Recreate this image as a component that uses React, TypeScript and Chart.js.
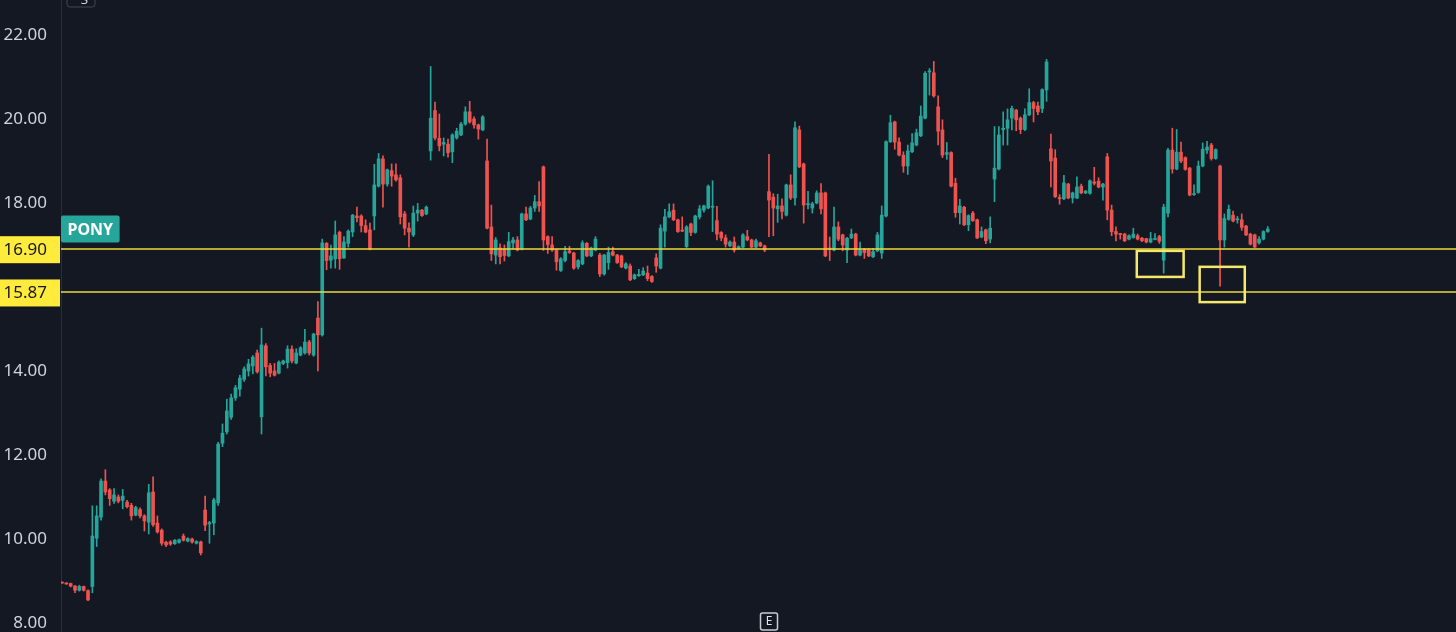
import React, { useEffect, useRef } from "react";
import { Chart, registerables } from "chart.js";

Chart.register(...registerables);

// ---- Data (daily OHLC) ----
const OPEN = [
  8.97, 8.95, 8.94, 8.88, 8.78, 8.87, 8.77, 8.87, 10.02, 10.52, 11.38, 11.17, 10.9, 11.0, 10.92, 10.88, 10.8, 10.57, 10.7, 10.55, 10.4, 11.12, 10.38, 10.21, 9.92, 9.93, 9.89, 9.92, 10.07, 9.95, 10.0, 9.9, 9.93, 10.69, 10.36, 10.38, 10.86, 12.28, 12.55, 12.9, 13.36, 13.57,
  13.8, 14.0, 14.12, 14.43, 12.91, 14.6, 14.13, 14.0, 13.95, 14.18, 14.2, 14.52, 14.19, 14.38, 14.43, 14.69, 14.38, 15.26, 14.86, 17.04, 16.64, 16.67, 17.3, 16.69, 17.04, 17.31, 17.69, 17.69, 17.46, 17.36, 17.69, 18.4, 19.05, 18.45, 18.77, 18.67, 18.6, 17.74, 17.4, 17.24, 17.76, 17.83, 17.74,
  19.24, 20.2, 19.54, 19.4, 19.4, 19.22, 19.55, 19.62, 19.88, 20.17, 20.0, 19.86, 19.74, 19.0, 17.43, 16.76, 16.93, 16.9, 16.74, 17.05, 17.12, 16.9, 17.74, 17.62, 17.88, 18.03, 18.86, 17.2, 17.0, 16.88, 16.39, 16.63, 16.86, 16.81, 16.48, 16.55, 17.04, 16.74, 16.88, 16.76, 16.31, 16.58, 16.84, 16.76, 16.74, 16.45, 16.5, 16.2, 16.27, 16.29, 16.33, 16.25, 16.69, 16.45, 17.33, 17.67, 17.83, 17.6,
  17.35, 16.96, 17.5, 17.3, 17.67, 17.83, 17.88, 17.9, 17.58, 17.3, 17.17, 16.98, 17.07, 16.92, 16.95, 17.2, 17.12, 16.95, 17.05, 16.98, 18.27, 18.14, 17.86, 17.93, 17.71, 18.43, 18.12, 19.74, 18.93, 17.96, 17.88, 18.0, 18.24, 18.24, 16.93, 16.88, 17.43, 17.24, 16.88, 17.17, 17.26, 16.76, 16.9, 16.88, 16.72, 16.86, 16.81, 17.69, 19.46, 19.93, 19.45, 19.14, 18.88,
  19.22, 19.38, 19.6, 20.02, 21.12, 21.1, 20.29, 19.74, 19.16, 19.2, 18.47, 17.77, 17.9, 17.48, 17.76, 17.6, 17.19, 17.36, 17.14, 18.57, 18.81, 19.75, 19.78, 20.02, 20.21, 20.02, 19.75, 20.1, 20.39, 20.31, 20.25, 20.69, 19.29, 19.07, 18.13, 18.1, 18.45, 18.12, 18.12,
  18.4, 18.24, 18.23, 18.5, 18.52, 18.38, 19.1, 17.83, 17.32, 17.27, 17.26, 17.14, 17.18, 17.22, 17.16, 17.15, 17.07, 17.13, 17.2, 16.64, 17.76, 19.26, 18.81, 19.21, 19.08, 18.83, 18.2, 18.25, 18.88, 19.26, 19.38, 19.06, 18.88, 17.12, 17.61, 17.71, 17.6, 17.6, 17.45, 17.26, 17.24, 17.05, 17.14, 17.32,
];
const HIGH = [
  8.98, 8.96, 8.95, 8.89, 8.9, 8.88, 8.79, 10.79, 10.79, 11.43, 11.65, 11.2, 11.2, 11.05, 11.18, 10.92, 10.85, 10.78, 10.74, 10.58, 11.3, 11.48, 10.55, 10.24, 9.95, 9.96, 9.99, 10.0, 10.12, 10.03, 10.02, 9.96, 9.95, 11.02, 10.42, 10.97, 12.3, 12.74, 13.33, 13.45, 13.66, 13.9,
  14.1, 14.28, 14.37, 14.5, 15.02, 14.65, 14.18, 14.18, 14.24, 14.26, 14.6, 14.6, 14.53, 14.58, 14.99, 14.73, 14.9, 15.65, 17.14, 17.06, 17.0, 17.57, 17.33, 17.2, 17.36, 17.73, 17.9, 17.72, 17.6, 17.52, 18.92, 19.18, 19.12, 18.81, 18.93, 18.93, 18.67, 17.8, 17.53, 17.93, 17.99, 17.85, 17.93,
  21.25, 20.4, 20.12, 19.55, 19.52, 19.65, 19.78, 19.92, 20.29, 20.42, 20.05, 19.88, 20.08, 19.52, 17.95, 17.18, 17.03, 17.0, 17.3, 17.18, 17.2, 17.76, 17.9, 17.92, 18.18, 18.51, 18.88, 17.22, 17.2, 16.9, 16.7, 16.97, 16.97, 16.83, 16.65, 17.1, 17.06, 16.95, 17.2, 16.8, 16.78, 16.95, 16.95, 16.78, 16.76, 16.58, 16.55, 16.31, 16.42, 16.46, 16.5, 16.27, 16.79, 17.48, 17.85, 17.98, 17.98, 17.62,
  17.67, 17.46, 17.52, 17.71, 17.94, 17.95, 18.43, 18.53, 17.92, 17.32, 17.24, 17.1, 17.19, 16.98, 17.27, 17.35, 17.14, 17.14, 17.07, 17.0, 19.16, 18.22, 18.21, 18.1, 18.45, 18.67, 19.93, 19.83, 18.95, 18.28, 18.02, 18.29, 18.46, 18.26, 17.19, 17.9, 17.55, 17.26, 17.18, 17.38, 17.28, 17.07, 16.92, 16.92, 16.92, 17.3, 17.93, 19.48, 20.09, 19.95, 19.55, 19.22, 19.38,
  19.65, 19.76, 20.31, 21.13, 21.2, 21.37, 20.55, 19.98, 19.44, 19.22, 18.59, 18.09, 17.92, 17.72, 17.8, 17.62, 17.43, 17.38, 17.67, 19.82, 19.82, 20.17, 20.24, 20.31, 20.23, 20.05, 20.24, 20.72, 20.42, 20.4, 20.72, 21.42, 19.64, 19.27, 18.2, 18.66, 18.47, 18.26, 18.62,
  18.45, 18.3, 18.55, 18.85, 18.6, 18.47, 19.18, 17.95, 17.43, 17.28, 17.28, 17.24, 17.4, 17.26, 17.18, 17.16, 17.3, 17.27, 17.23, 17.97, 19.3, 19.78, 19.75, 19.45, 19.1, 18.85, 18.43, 19.0, 19.43, 19.47, 19.42, 19.29, 18.9, 17.74, 17.95, 17.81, 17.68, 17.74, 17.47, 17.28, 17.26, 17.2, 17.34, 17.44,
];
const LOW = [
  8.94, 8.92, 8.86, 8.72, 8.76, 8.76, 8.53, 8.72, 9.82, 10.45, 11.05, 10.8, 10.85, 10.86, 10.72, 10.74, 10.45, 10.55, 10.5, 10.19, 10.12, 10.3, 10.14, 9.85, 9.82, 9.85, 9.87, 9.9, 9.95, 9.93, 9.9, 9.88, 9.62, 10.2, 9.9, 10.1, 10.8, 12.2, 12.5, 12.85, 13.3, 13.4,
  13.75, 13.88, 13.93, 13.95, 12.5, 13.88, 13.86, 13.88, 13.93, 14.15, 14.07, 14.19, 14.17, 14.36, 14.4, 14.38, 14.35, 14.0, 14.83, 16.41, 16.45, 16.45, 16.42, 16.68, 16.95, 17.2, 17.55, 17.31, 17.29, 16.88, 17.36, 18.38, 17.9, 18.4, 18.4, 18.52, 17.5, 17.24, 16.95, 17.2, 17.57, 17.68, 17.72,
  19.02, 19.5, 19.24, 19.12, 19.09, 18.96, 19.52, 19.6, 19.85, 19.9, 19.78, 19.52, 19.72, 17.38, 16.63, 16.55, 16.55, 16.62, 16.72, 16.9, 16.86, 16.88, 17.58, 17.6, 17.8, 17.8, 16.87, 16.8, 16.85, 16.4, 16.37, 16.6, 16.8, 16.42, 16.43, 16.53, 16.72, 16.72, 16.86, 16.25, 16.28, 16.42, 16.74, 16.56, 16.46, 16.43, 16.15, 16.18, 16.25, 16.27, 16.15, 16.11, 16.35, 16.43, 16.95, 17.65, 17.58, 17.3,
  17.32, 16.94, 17.22, 17.28, 17.62, 17.78, 17.86, 17.32, 17.12, 17.1, 16.95, 16.96, 16.83, 16.9, 16.93, 17.1, 16.93, 16.93, 16.96, 16.84, 17.2, 17.22, 17.54, 17.62, 17.69, 18.08, 17.95, 18.84, 17.52, 17.86, 17.76, 17.98, 17.74, 16.72, 16.63, 16.86, 17.1, 16.86, 16.58, 17.15, 16.74, 16.74, 16.68, 16.72, 16.7, 16.84, 16.68, 17.67, 19.44, 19.28, 19.12, 18.73, 18.68,
  19.2, 19.36, 19.58, 20.0, 20.57, 20.52, 19.38, 19.08, 19.04, 18.38, 17.66, 17.5, 17.46, 17.34, 17.56, 17.15, 17.17, 17.03, 17.05, 18.03, 18.79, 19.38, 19.38, 19.74, 19.72, 19.65, 19.72, 20.08, 19.93, 20.1, 20.15, 20.42, 18.38, 18.13, 17.97, 18.08, 18.1, 18.0, 18.1,
  18.22, 18.22, 18.21, 18.43, 18.36, 18.07, 17.6, 17.22, 17.1, 17.14, 17.08, 17.12, 17.16, 17.12, 17.08, 17.05, 17.05, 17.12, 17.04, 16.33, 17.67, 18.71, 18.79, 18.96, 18.78, 18.17, 18.18, 18.23, 18.86, 19.18, 19.02, 19.04, 16.02, 16.95, 17.59, 17.55, 17.52, 17.35, 17.22, 17.0, 16.93, 17.02, 17.12, 17.3,
];
const CLOSE = [
  8.95, 8.93, 8.88, 8.78, 8.87, 8.78, 8.55, 10.07, 10.55, 11.38, 11.12, 10.96, 11.05, 10.9, 11.02, 10.77, 10.55, 10.75, 10.55, 10.43, 11.1, 10.34, 10.17, 9.9, 9.86, 9.88, 9.97, 9.98, 9.97, 10.01, 9.93, 9.94, 9.67, 10.33, 10.39, 10.93, 12.26, 12.52, 13.05, 13.36, 13.6, 13.83,
  14.05, 14.17, 14.33, 13.98, 14.62, 14.1, 13.95, 13.9, 14.21, 14.24, 14.52, 14.24, 14.43, 14.55, 14.69, 14.43, 14.88, 14.86, 17.05, 16.63, 16.74, 17.24, 16.67, 17.07, 17.33, 17.71, 17.65, 17.46, 17.31, 16.9, 18.43, 19.05, 18.45, 18.79, 18.64, 18.55, 17.67, 17.4, 17.31, 17.76, 17.83, 17.7, 17.9,
  20.02, 19.55, 19.36, 19.44, 19.2, 19.62, 19.71, 19.88, 20.17, 19.93, 19.86, 19.76, 20.05, 17.4, 16.79, 17.12, 16.72, 16.75, 17.08, 17.12, 16.88, 17.74, 17.6, 17.88, 18.03, 17.93, 17.12, 17.01, 16.88, 16.6, 16.67, 16.84, 16.82, 16.45, 16.63, 17.05, 16.74, 16.93, 17.14, 16.31, 16.76, 16.82, 16.76, 16.58, 16.48, 16.55, 16.17, 16.29, 16.3, 16.38, 16.2, 16.13, 16.5, 17.4, 17.67, 17.79, 17.6, 17.32,
  17.33, 17.43, 17.3, 17.69, 17.86, 17.93, 18.4, 17.92, 17.26, 17.17, 17.02, 17.07, 16.88, 16.96, 17.24, 17.12, 16.95, 17.1, 16.98, 16.88, 18.07, 17.88, 17.93, 17.8, 18.43, 18.12, 19.79, 18.86, 17.95, 17.98, 17.98, 18.24, 17.86, 16.74, 16.9, 17.43, 17.14, 17.0, 17.16, 17.26, 16.76, 16.88, 16.82, 16.74, 16.84, 17.24, 17.71, 19.46, 19.91, 19.45, 19.14, 18.88, 19.24,
  19.43, 19.67, 20.07, 21.09, 21.14, 20.55, 19.71, 19.14, 19.2, 18.4, 17.77, 17.93, 17.48, 17.7, 17.58, 17.17, 17.32, 17.1, 17.4, 18.83, 19.62, 19.78, 19.98, 20.25, 19.98, 19.75, 20.1, 20.39, 20.25, 20.17, 20.7, 21.36, 19.0, 18.15, 18.1, 18.48, 18.12, 18.24, 18.38,
  18.24, 18.28, 18.53, 18.47, 18.38, 18.45, 17.83, 17.32, 17.26, 17.25, 17.1, 17.22, 17.26, 17.14, 17.1, 17.07, 17.15, 17.15, 17.09, 17.9, 19.26, 18.81, 19.21, 19.0, 18.8, 18.19, 18.22, 18.88, 19.28, 19.33, 19.06, 19.27, 17.12, 17.63, 17.85, 17.57, 17.62, 17.42, 17.24, 17.02, 16.95, 17.14, 17.32, 17.38,
];

const PRICE_TICKS = [8, 10, 12, 14, 18, 20, 22];
const LEVELS = [16.9, 15.87];
const SYMBOL = "PONY";
// highlight rectangles: candle-index span and price span
const HIGHLIGHT_FROM = [247.8, 262.3];
const HIGHLIGHT_TO = [258.6, 272.7];
const HIGHLIGHT_TOP = [16.86, 16.48];
const HIGHLIGHT_BOTTOM = [16.24, 15.64];
const EARNINGS_INDEX = 163;

const Y_MIN = 7.786;
const Y_MAX = 22.833;
const X_MIN = -0.23;
const X_MAX = 321.4;

const BG = "#141823";
const UP = "#26a69a";
const DOWN = "#ef5350";
const TEXT = "#d1d4dc";
const YELLOW = "#ffeb3b";
const FONT = "'Noto Sans', 'Liberation Sans', sans-serif";

function roundRect(ctx: CanvasRenderingContext2D, x: number, y: number, w: number, h: number, r: number) {
  ctx.beginPath();
  ctx.moveTo(x + r, y);
  ctx.lineTo(x + w - r, y);
  ctx.quadraticCurveTo(x + w, y, x + w, y + r);
  ctx.lineTo(x + w, y + h - r);
  ctx.quadraticCurveTo(x + w, y + h, x + w - r, y + h);
  ctx.lineTo(x + r, y + h);
  ctx.quadraticCurveTo(x, y + h, x, y + h - r);
  ctx.lineTo(x, y + r);
  ctx.quadraticCurveTo(x, y, x + r, y);
  ctx.closePath();
}

const overlayPlugin = {
  id: "overlay",
  beforeDraw(chart: any) {
    const ctx = chart.ctx as CanvasRenderingContext2D;
    ctx.save();
    ctx.fillStyle = BG;
    ctx.fillRect(0, 0, chart.width, chart.height);
    ctx.restore();
  },
  afterDatasetsDraw(chart: any) {
    const ctx = chart.ctx as CanvasRenderingContext2D;
    const xs = chart.scales.x;
    const ys = chart.scales.y;
    const area = chart.chartArea;
    ctx.save();
    // level lines
    ctx.strokeStyle = "#ecd83a";
    ctx.lineWidth = 1.6;
    LEVELS.forEach((lv) => {
      const y = Math.round(ys.getPixelForValue(lv));
      ctx.beginPath();
      ctx.moveTo(area.left, y);
      ctx.lineTo(area.right, y);
      ctx.stroke();
    });
    // highlight rectangles
    ctx.strokeStyle = "#f5e86a";
    ctx.lineWidth = 2.5;
    HIGHLIGHT_FROM.forEach((f, k) => {
      const x1 = xs.getPixelForValue(f);
      const x2 = xs.getPixelForValue(HIGHLIGHT_TO[k]);
      const y1 = ys.getPixelForValue(HIGHLIGHT_TOP[k]);
      const y2 = ys.getPixelForValue(HIGHLIGHT_BOTTOM[k]);
      ctx.strokeRect(x1, y1, x2 - x1, y2 - y1);
    });
    // earnings marker
    const ex = Math.round(xs.getPixelForValue(EARNINGS_INDEX));
    const eb = area.bottom - 1;
    roundRect(ctx, ex - 8.5, eb - 18, 17, 17, 2);
    ctx.fillStyle = BG;
    ctx.fill();
    ctx.strokeStyle = "#c9cbd1";
    ctx.lineWidth = 1.5;
    ctx.stroke();
    ctx.fillStyle = "#e0e3eb";
    ctx.font = `12px ${FONT}`;
    ctx.textAlign = "center";
    ctx.textBaseline = "middle";
    ctx.fillText("E", ex, eb - 9.5);
    // partially hidden pane button at top
    roundRect(ctx, area.left + 6, -16, 28, 23, 3);
    ctx.strokeStyle = "#434651";
    ctx.lineWidth = 1;
    ctx.stroke();
    ctx.fillStyle = TEXT;
    ctx.font = `13px ${FONT}`;
    ctx.textAlign = "center";
    ctx.textBaseline = "alphabetic";
    ctx.fillText("· 3", area.left + 20, 4);
    ctx.restore();
  },
  afterDraw(chart: any) {
    const ctx = chart.ctx as CanvasRenderingContext2D;
    const ys = chart.scales.y;
    const area = chart.chartArea;
    ctx.save();
    // yellow price labels on the axis
    LEVELS.forEach((lv) => {
      const y = ys.getPixelForValue(lv);
      ctx.fillStyle = YELLOW;
      ctx.fillRect(0, y - 13, area.left - 1, 27);
      ctx.fillStyle = "#131722";
      ctx.font = `17px ${FONT}`;
      ctx.textAlign = "right";
      ctx.textBaseline = "middle";
      ctx.fillText(lv.toFixed(2), 47, y + 1);
    });
    // symbol label at last close
    const last = CLOSE[CLOSE.length - 1];
    const ly = ys.getPixelForValue(last);
    ctx.font = `bold 16px ${FONT}`;
    const tw = ctx.measureText(SYMBOL).width;
    roundRect(ctx, area.left, ly - 13.5, tw + 13, 27, 2);
    ctx.fillStyle = UP;
    ctx.fill();
    ctx.fillStyle = "#ffffff";
    ctx.textAlign = "left";
    ctx.textBaseline = "middle";
    ctx.fillText(SYMBOL, area.left + 6.5, ly + 1);
    ctx.restore();
  },
};

export default function App() {
  const canvasRef = useRef<HTMLCanvasElement | null>(null);

  useEffect(() => {
    if (!canvasRef.current) return;
    const colors = OPEN.map((o, i) => (CLOSE[i] >= o ? UP : DOWN));
    const bodies = OPEN.map((o, i) => ({ x: i, y: [o, CLOSE[i]] }));
    const wicks = LOW.map((l, i) => ({ x: i, y: [l, HIGH[i]] }));

    const chart = new Chart(canvasRef.current, {
      type: "bar",
      data: {
        datasets: [
          {
            label: "body",
            data: bodies as any,
            backgroundColor: colors,
            barThickness: 3,
            minBarLength: 1,
            grouped: false,
            borderWidth: 0,
          } as any,
          {
            label: "wick",
            data: wicks as any,
            backgroundColor: colors,
            barThickness: 1,
            minBarLength: 1,
            grouped: false,
            borderWidth: 0,
          } as any,
        ],
      },
      options: {
        animation: false,
        responsive: true,
        maintainAspectRatio: false,
        events: [],
        layout: { padding: 0 },
        plugins: { legend: { display: false }, tooltip: { enabled: false } },
        scales: {
          x: {
            type: "linear",
            display: false,
            min: X_MIN,
            max: X_MAX,
            offset: false,
            grid: { display: false },
          },
          y: {
            type: "linear",
            position: "left",
            min: Y_MIN,
            max: Y_MAX,
            afterBuildTicks: (s: any) => {
              s.ticks = PRICE_TICKS.map((v) => ({ value: v }));
            },
            afterFit: (s: any) => {
              s.width = 61;
              s.paddingTop = 0;
              s.paddingBottom = 0;
            },
            grid: { display: false, drawTicks: false },
            border: { display: true, color: "#2a2e39", width: 1 },
            ticks: {
              color: TEXT,
              font: { family: FONT, size: 17 },
              padding: 14,
              autoSkip: false,
              callback: (v: any) => Number(v).toFixed(2),
            },
          },
        },
      } as any,
      plugins: [overlayPlugin],
    });
    return () => chart.destroy();
  }, []);

  return (
    <div style={{ position: "fixed", left: 0, top: 0, width: 1456, height: 632, background: BG }}>
      <canvas ref={canvasRef} />
    </div>
  );
}
